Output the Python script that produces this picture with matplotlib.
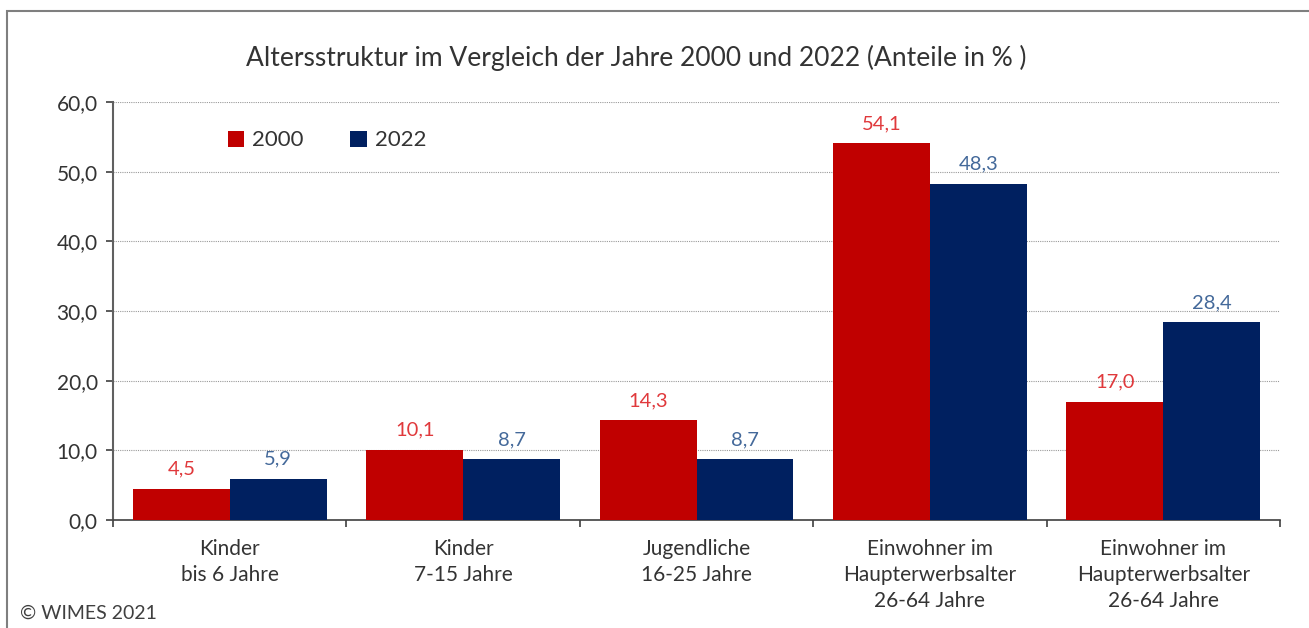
import matplotlib.pyplot as plt
import numpy as np
from matplotlib.patches import Rectangle

categories = [
    "Kinder\nbis 6 Jahre",
    "Kinder\n7-15 Jahre",
    "Jugendliche\n16-25 Jahre",
    "Einwohner im\nHaupterwerbsalter\n26-64 Jahre",
    "Einwohner im\nHaupterwerbsalter\n26-64 Jahre",
]
values_2000 = [4.5, 10.1, 14.3, 54.1, 17.0]
values_2022 = [5.9, 8.7, 8.7, 48.3, 28.4]
series_names = ["2000", "2022"]

plt.rcParams["font.family"] = ["Lato", "DejaVu Sans"]

fig = plt.figure(figsize=(13.09, 6.28), dpi=100)
ax = fig.add_axes([113 / 1309, 1 - 520 / 628, (1280 - 113) / 1309, (520 - 102) / 628])

# outer frame
fig.patches.append(Rectangle((7 / 1309, -0.1), 1.2, 1 - 11 / 628 + 0.1,
                             transform=fig.transFigure, fill=False,
                             edgecolor="#7f7f7f", linewidth=1.5))

x = np.arange(len(categories))
w = 0.415
red, blue = "#C00000", "#002060"
b1 = ax.bar(x - w / 2, values_2000, w, color=red, label=series_names[0], zorder=3)
b2 = ax.bar(x + w / 2, values_2022, w, color=blue, label=series_names[1], zorder=3)

for bars, col in ((b1, "#E0393C"), (b2, "#44699A")):
    for r in bars:
        ax.text(r.get_x() + r.get_width() / 2, r.get_height() + 1.6,
                f"{r.get_height():.1f}".replace(".", ","),
                ha="center", va="bottom", color=col, fontsize=14.5)

txt = "#333333"
ax.set_xlim(-0.5, len(categories) - 0.5)
ax.set_ylim(0, 60)
ax.set_yticks(range(0, 61, 10))
ax.set_yticklabels([f"{v},0" for v in range(0, 61, 10)])
ax.set_xticks(x)
ax.set_xticklabels(categories)
ax.set_xticks(np.arange(-0.5, len(categories), 1), minor=True)
ax.tick_params(axis="x", which="major", length=0, pad=14, labelsize=15, labelcolor=txt)
ax.tick_params(axis="x", which="minor", length=5, width=1.2, color="#404040")
ax.tick_params(axis="y", length=5, width=1.2, color="#404040", labelsize=15,
               labelcolor=txt, pad=6)
for lab in ax.get_xticklabels():
    lab.set_linespacing(1.35)

ax.grid(axis="y", color="#9a9a9a", linestyle=(0, (1, 1)), linewidth=0.8, zorder=0)
for s in ("top", "right"):
    ax.spines[s].set_visible(False)
ax.spines["left"].set_color("#606060")
ax.spines["left"].set_linewidth(1.5)
ax.spines["bottom"].set_color("#404040")
ax.spines["bottom"].set_linewidth(1.2)

fig.text(636 / 1309, 1 - 58 / 628, "Altersstruktur im Vergleich der Jahre 2000 und 2022 (Anteile in % )",
         ha="center", va="center", fontsize=19, color=txt)

leg = ax.legend(loc="center left", bbox_to_anchor=(0.081, 0.908), ncol=2, frameon=False,
                handlelength=0.75, handleheight=0.75, handletextpad=0.35, columnspacing=2.1,
                fontsize=16)
for t in leg.get_texts():
    t.set_color(txt)

fig.text(20 / 1309, 1 - 613 / 628, "© WIMES 2021", ha="left", va="center",
         fontsize=14, color="#404040")

fig.savefig("out.png", dpi=100)
